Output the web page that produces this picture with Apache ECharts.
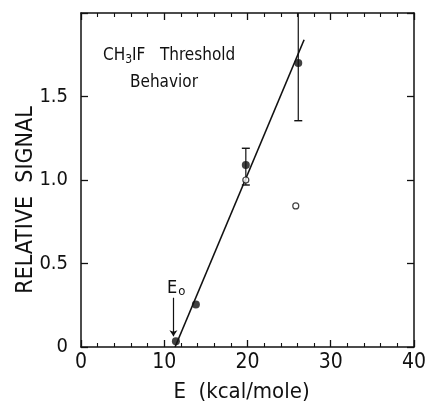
<!DOCTYPE html>
<html>
<head>
<meta charset="utf-8">
<script src="https://cdn.jsdelivr.net/npm/echarts@6/dist/echarts.min.js"></script>
<style>
html,body{margin:0;padding:0;background:#fff;}
#chart{width:429px;height:410px;}
</style>
</head>
<body>
<div id="chart"></div>
<script>
// ---- data ----
var xTicks = [0, 10, 20, 30, 40];
var yTickLabels = ['0', '0.5', '1.0', '1.5', ''];
var filledPoints = [[11.4, 0.035], [13.8, 0.255], [19.8, 1.09], [26.1, 1.70]];
var openPoints = [[19.8, 1.0], [25.8, 0.845]];
// error bars: [x, low, high, capLow, capHigh]
var errorBars = [[19.8, 0.97, 1.19, 1, 1], [26.1, 1.355, 2.0, 1, 0]];
var fitLine = [[11.3, 0.0], [26.8, 1.84]];
var arrowLine = [[11.1, 0.295], [11.1, 0.065]];

var FONT = "'Liberation Sans Narrow','DejaVu Sans Condensed','Liberation Sans',sans-serif";
var chart = echarts.init(document.getElementById('chart'), null, {renderer: 'canvas'});

var axisCommon = {
  axisLine: {show: true, onZero: false, lineStyle: {color: '#111', width: 1.5}},
  axisTick: {show: true, inside: true, length: 7, lineStyle: {color: '#111', width: 1.3}},
  minorTick: {show: false},
  splitLine: {show: false}
};

var option = {
  animation: false,
  backgroundColor: '#fff',
  grid: {left: 81, right: 14, top: 13, bottom: 63},
  xAxis: [
    Object.assign({}, axisCommon, {
      type: 'value', min: 0, max: 40, interval: 10, position: 'bottom',
      minorTick: {show: true, splitNumber: 5, length: 4, lineStyle: {color: '#111', width: 1.1}},
      axisLabel: {show: true, margin: 5, color: '#111', fontSize: 21, fontFamily: FONT,
        formatter: function (v) { return xTicks.indexOf(v) >= 0 ? String(v) : ''; }},
      name: 'E  (kcal/mole)', nameLocation: 'middle', nameGap: 34, nameMoveOverlap: false,
      nameTextStyle: {color: '#111', fontSize: 22, fontFamily: FONT, padding: [0, 12, 0, 0]}
    }),
    Object.assign({}, axisCommon, {
      type: 'value', min: 0, max: 40, interval: 10, position: 'top',
      minorTick: {show: true, splitNumber: 5, length: 4, lineStyle: {color: '#111', width: 1.1}},
      axisLabel: {show: false}
    })
  ],
  yAxis: [
    Object.assign({}, axisCommon, {
      type: 'value', min: 0, max: 2, interval: 0.5, position: 'left',
      axisLabel: {show: true, margin: 13, color: '#111', fontSize: 20, fontFamily: FONT,
        formatter: function (v) { return yTickLabels[Math.round(v / 0.5)]; }},
      name: 'RELATIVE  SIGNAL', nameLocation: 'middle', nameGap: 43, nameMoveOverlap: false,
      nameTextStyle: {color: '#111', fontSize: 23, fontFamily: FONT, padding: [0, 40, 0, 0]}
    }),
    Object.assign({}, axisCommon, {
      type: 'value', min: 0, max: 2, interval: 0.5, position: 'right',
      axisLabel: {show: false}
    })
  ],
  series: [
    {
      type: 'line', data: fitLine, showSymbol: false, symbol: 'none',
      lineStyle: {color: '#111', width: 1.6}, z: 3
    },
    {
      type: 'custom',
      data: errorBars,
      renderItem: function (params, api) {
        var x = api.value(0);
        var lo = api.coord([x, api.value(1)]);
        var hi = api.coord([x, api.value(2)]);
        var cw = 4;
        var children = [{
          type: 'line', shape: {x1: lo[0], y1: lo[1], x2: hi[0], y2: hi[1]},
          style: {stroke: '#111', lineWidth: 1.2}
        }];
        if (api.value(3)) children.push({type: 'line', shape: {x1: lo[0] - cw, y1: lo[1], x2: lo[0] + cw, y2: lo[1]}, style: {stroke: '#111', lineWidth: 1.4}});
        if (api.value(4)) children.push({type: 'line', shape: {x1: hi[0] - cw, y1: hi[1], x2: hi[0] + cw, y2: hi[1]}, style: {stroke: '#111', lineWidth: 1.4}});
        return {type: 'group', children: children};
      },
      encode: {x: 0, y: [1, 2]}, z: 2
    },
    {
      type: 'scatter', data: filledPoints, symbol: 'circle', symbolSize: 8,
      itemStyle: {color: '#111'}, z: 5
    },
    {
      type: 'scatter', data: openPoints, symbol: 'circle', symbolSize: 6,
      itemStyle: {color: '#fff', borderColor: '#111', borderWidth: 1.2}, z: 6
    },
    {
      type: 'lines', coordinateSystem: 'cartesian2d',
      data: [{coords: arrowLine}],
      symbol: ['none', 'arrow'], symbolSize: 6,
      lineStyle: {color: '#111', width: 1.2, opacity: 1}, z: 4
    }
  ],
  graphic: [
    {
      type: 'text', left: 103, top: 47,
      style: {
        text: 'CH{s|3}IF   Threshold',
        fill: '#111', fontSize: 17, fontFamily: FONT,
        rich: {s: {fontSize: 12, fontFamily: FONT, fill: '#111', verticalAlign: 'bottom', padding: [8, 0, 0, 0]}}
      }
    },
    {
      type: 'text', left: 130, top: 74,
      style: {text: 'Behavior', fill: '#111', fontSize: 17, fontFamily: FONT}
    },
    {
      type: 'text', left: 167, top: 279,
      style: {
        text: 'E{s|o}', fill: '#111', fontSize: 18, fontFamily: FONT,
        rich: {s: {fontSize: 13, fontFamily: FONT, fill: '#111', padding: [8, 0, 0, 1]}}
      }
    }
  ]
};
chart.setOption(option);
</script>
</body>
</html>
